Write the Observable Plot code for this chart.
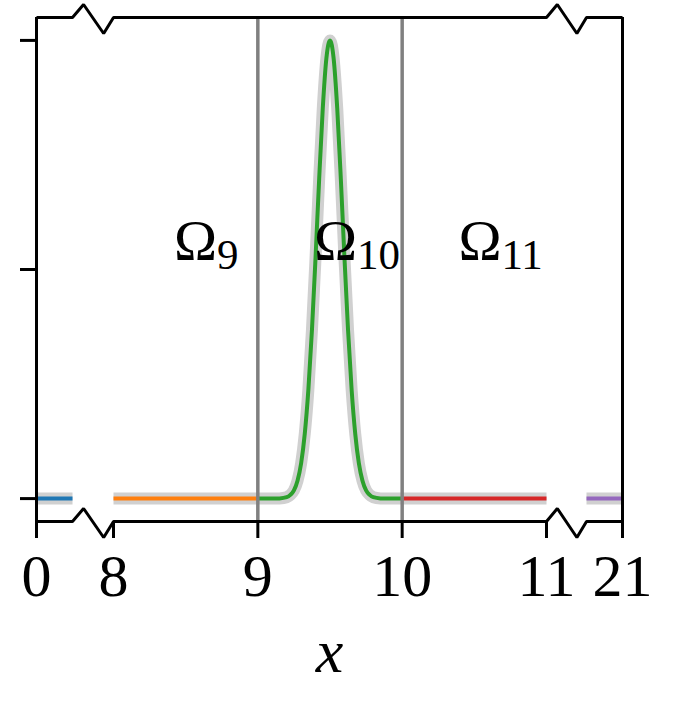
<!DOCTYPE html>
<html>
<head>
<meta charset="utf-8">
<script src="https://cdn.jsdelivr.net/npm/d3@7"></script>
<script src="https://cdn.jsdelivr.net/npm/@observablehq/plot@0.6"></script>
<style>
  html, body { margin: 0; padding: 0; background: #fff; color: #000; }
  svg { display: block; }
</style>
</head>
<body>
<div id="chart"></div>
<script>
// ---- data ----
const blueX = [0, 0.25];
const blueY = [0, 0];
const orangeX = [8, 9];
const orangeY = [0, 0];
const greenX = [9, 9.1, 9.15, 9.2, 9.225, 9.25, 9.275, 9.3, 9.325, 9.35, 9.375, 9.4, 9.425, 9.45, 9.475,
                9.5,
                9.525, 9.55, 9.575, 9.6, 9.625, 9.65, 9.675, 9.7, 9.725, 9.75, 9.775, 9.8, 9.85, 9.9, 10];
const greenY = [0, 0, 0.0004, 0.003, 0.008, 0.018, 0.039, 0.077, 0.141, 0.237, 0.368, 0.527, 0.698, 0.852, 0.961,
                1.0,
                0.961, 0.852, 0.698, 0.527, 0.368, 0.237, 0.141, 0.077, 0.039, 0.018, 0.008, 0.003, 0.0004, 0, 0];
const redX = [10, 10.5, 11];
const redY = [0, 0, 0];
const purpleX = [20.75, 21];
const purpleY = [0, 0];

const xTicks = [0, 8, 9, 10, 11, 21];
const yTicks = [0, 0.5, 1];
const subdomainBounds = [9, 10];
const regionLabelX = [8.42, 9.39, 10.39];
const regionLabelSub = ["9", "10", "11"];
const regionLabelY = 0.52;
const breaks = [[0.25, 8], [11, 20.75]];
const xExtent = [0, 21];
const yExtent = [-0.05, 1.05];

// ---- build tables ----
const segments = [
  {name: "s0", xs: blueX, ys: blueY, color: "#1f77b4"},
  {name: "s8", xs: orangeX, ys: orangeY, color: "#ff7f0e"},
  {name: "s9", xs: greenX, ys: greenY, color: "#2ca02c"},
  {name: "s10", xs: redX, ys: redY, color: "#d62728"},
  {name: "s20", xs: purpleX, ys: purpleY, color: "#9467bd"}
];
const rows = segments.flatMap(s => s.xs.map((x, i) => ({x, y: s.ys[i], seg: s.name, color: s.color})));

// piecewise (broken) x scale
const xDomain = [xExtent[0], breaks[0][0], breaks[0][1], breaks[1][0], breaks[1][1], xExtent[1]];
const xRange = [36, 72, 113, 546, 586, 622];

// frame spines with break zig-zags (offsets in px converted to y units)
const pxToY = (yExtent[1] - yExtent[0]) / (521 - 17);
const zig = [[0, 0], [0.27, -13], [0.76, 16], [1, 0]];
function spine(y0) {
  const pts = [{x: xExtent[0], y: y0}];
  for (const [a, b] of breaks) {
    for (const [f, off] of zig) pts.push({x: a + f * (b - a), y: y0 - off * pxToY});
  }
  pts.push({x: xExtent[1], y: y0});
  return pts;
}
const topSpine = spine(yExtent[1]);
const bottomSpine = spine(yExtent[0]);

const labels = regionLabelX.map((x, i) => ({x, y: regionLabelY, sub: regionLabelSub[i]}));

const serif = "'Liberation Serif', 'DejaVu Serif', serif";

const chart = Plot.plot({
  width: 673,
  height: 705,
  marginLeft: 36,
  marginRight: 51,
  marginTop: 17,
  marginBottom: 184,
  style: {fontFamily: serif, background: "#fff", overflow: "visible"},
  x: {type: "linear", domain: xDomain, range: xRange},
  y: {domain: yExtent},
  marks: [
    Plot.line(rows, {x: "x", y: "y", z: "seg", stroke: "#d0d0d0", strokeWidth: 12, curve: "monotone-x", strokeLinecap: "butt"}),
    Plot.line(rows, {x: "x", y: "y", z: "seg", stroke: "color", strokeWidth: 4, curve: "monotone-x", strokeLinecap: "butt"}),
    Plot.ruleX(subdomainBounds, {y1: yExtent[0], y2: yExtent[1], stroke: "#808080", strokeWidth: 3.5}),
    Plot.text(labels, {x: "x", y: "y", text: () => "Ω", textAnchor: "start", lineAnchor: "bottom", fontSize: 58, fill: "#000"}),
    Plot.text(labels, {x: "x", y: "y", text: "sub", textAnchor: "start", lineAnchor: "bottom", fontSize: 43, dx: 43, dy: 9, fill: "#000"}),
    Plot.ruleX(xExtent, {y1: yExtent[0], y2: yExtent[1], stroke: "#000", strokeWidth: 3}),
    Plot.line(topSpine, {x: "x", y: "y", stroke: "#000", strokeWidth: 3, strokeLinejoin: "miter", strokeLinecap: "butt"}),
    Plot.line(bottomSpine, {x: "x", y: "y", stroke: "#000", strokeWidth: 3, strokeLinejoin: "miter", strokeLinecap: "butt"}),
    Plot.axisX({ticks: xTicks, tickSize: 17, tickPadding: 15, fontSize: 60, strokeWidth: 3, tickFormat: d => String(d), label: null, fill: "#000", stroke: "#000"}),
    Plot.axisY({ticks: yTicks, tickSize: 16, tickFormat: () => "", strokeWidth: 3, label: null, stroke: "#000"}),
    Plot.text(["x"], {frameAnchor: "bottom", text: d => d, dy: 150, fontSize: 62, fontStyle: "italic", fill: "#000"})
  ]
});
document.getElementById("chart").appendChild(chart);
</script>
</body>
</html>
